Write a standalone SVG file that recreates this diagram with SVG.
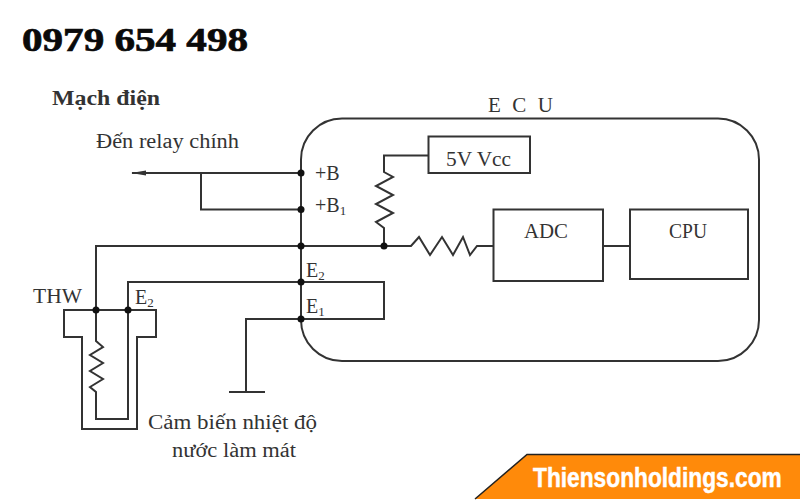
<svg xmlns="http://www.w3.org/2000/svg" width="800" height="500" viewBox="0 0 800 500">
<style>
.w{fill:none;stroke:#333;stroke-width:2;stroke-linejoin:miter}
.box{fill:#fff;stroke:#333;stroke-width:2}
.d{fill:#111}
text{font-family:"Liberation Serif","Times New Roman",serif;fill:#333}
.t{font-size:20px}
.u{font-size:21px}
.s{font-size:13px}
</style>
<defs>
<marker id="arr" markerWidth="16" markerHeight="8" refX="14" refY="4" orient="auto" markerUnits="userSpaceOnUse"><path d="M15 4L0 1.500V6.500Z" fill="#333"/></marker>
</defs>
<rect width="800" height="500" fill="#fff"/>
<g id="phone"><text x="22" y="51" style="font-weight:700;font-size:34px;fill:#0a0a0a;stroke:#0a0a0a;stroke-width:.7" textLength="226" lengthAdjust="spacingAndGlyphs">0979 654 498</text></g>
<g id="title"><text x="52" y="105" style="font-weight:700;font-size:21px" textLength="108" lengthAdjust="spacingAndGlyphs">Mạch điện</text></g>
<g id="ecu"><rect class="box" x="301" y="118.500" width="458" height="242.500" rx="41" ry="41"/><text class="u" x="488" y="112" textLength="65">E C U</text></g>
<g id="vcc"><rect class="box" x="428.500" y="136.500" width="101.500" height="36.500"/><text class="t" x="446" y="166" textLength="65" lengthAdjust="spacingAndGlyphs">5V Vcc</text></g>
<g id="adc"><rect class="box" x="493.500" y="209.500" width="109.500" height="71.500"/><text class="u" x="524" y="238" textLength="44" lengthAdjust="spacingAndGlyphs">ADC</text></g>
<g id="cpu"><rect class="box" x="630" y="209.500" width="118" height="69.500"/><text class="u" x="669" y="238" textLength="38" lengthAdjust="spacingAndGlyphs">CPU</text></g>
<g id="sensor"><path class="w" d="M64 310H156V337H137V429H82V337H64Z"/></g>
<g id="connectors">
<path class="w" d="M301 173H132" marker-end="url(#arr)"/>
<path class="w" d="M201 173V209.500H301"/>
<path class="w" d="M384 246V228L376 222L393 213L376 204L393 195L376 186L393 177L384 172V155.500H428"/>
<path class="w" d="M96 337V246H411L419 237L430 255L442 237L453 255L463 237L470 255L477 246H493"/>
<path class="w" d="M603 246H630"/>
<path class="w" d="M96 337V341L103 347L90 355L103 363L90 371L103 379L90 387L96 392V419H128V282H384V319H246V392"/>
<path class="w" d="M229 392H265"/>
<circle class="d" cx="301" cy="173" r="3.500"/><circle class="d" cx="301" cy="209.500" r="3.500"/><circle class="d" cx="301" cy="246" r="3.500"/><circle class="d" cx="384" cy="246" r="3.500"/><circle class="d" cx="301" cy="282" r="3.500"/><circle class="d" cx="301" cy="319" r="3.500"/><circle class="d" cx="96" cy="310" r="3.500"/><circle class="d" cx="128" cy="310" r="3.500"/>
</g>
<g id="labels">
<text class="t" x="96" y="148" textLength="143" lengthAdjust="spacingAndGlyphs">Đến relay chính</text>
<text class="t" x="315" y="180">+B</text>
<text class="t" x="315" y="212">+B<tspan class="s" dy="3">1</tspan></text>
<text class="t" x="306" y="277">E<tspan class="s" dy="3">2</tspan></text>
<text class="t" x="306" y="313">E<tspan class="s" dy="3">1</tspan></text>
<text class="u" x="33" y="303" textLength="49" lengthAdjust="spacingAndGlyphs">THW</text>
<text class="t" x="135" y="304">E<tspan class="s" dy="3">2</tspan></text>
<text class="t" x="148" y="429" textLength="169" lengthAdjust="spacingAndGlyphs">Cảm biến nhiệt độ</text>
<text class="t" x="172" y="457" textLength="124" lengthAdjust="spacingAndGlyphs">nước làm mát</text>
</g>
<g id="banner">
<path d="M475 499L527 454.500H800V499Z" fill="#ff8a0a"/>
<path d="M475 499L527 454.500H800" fill="none" stroke="#222" stroke-width="1.500"/>
<text transform="translate(533 487) scale(.812 1)" style="font-family:'Liberation Sans',Arial,sans-serif;font-weight:700;font-size:28px;fill:#fff;stroke:#fff;stroke-width:.5">Thiensonholdings.com</text>
</g>
</svg>
